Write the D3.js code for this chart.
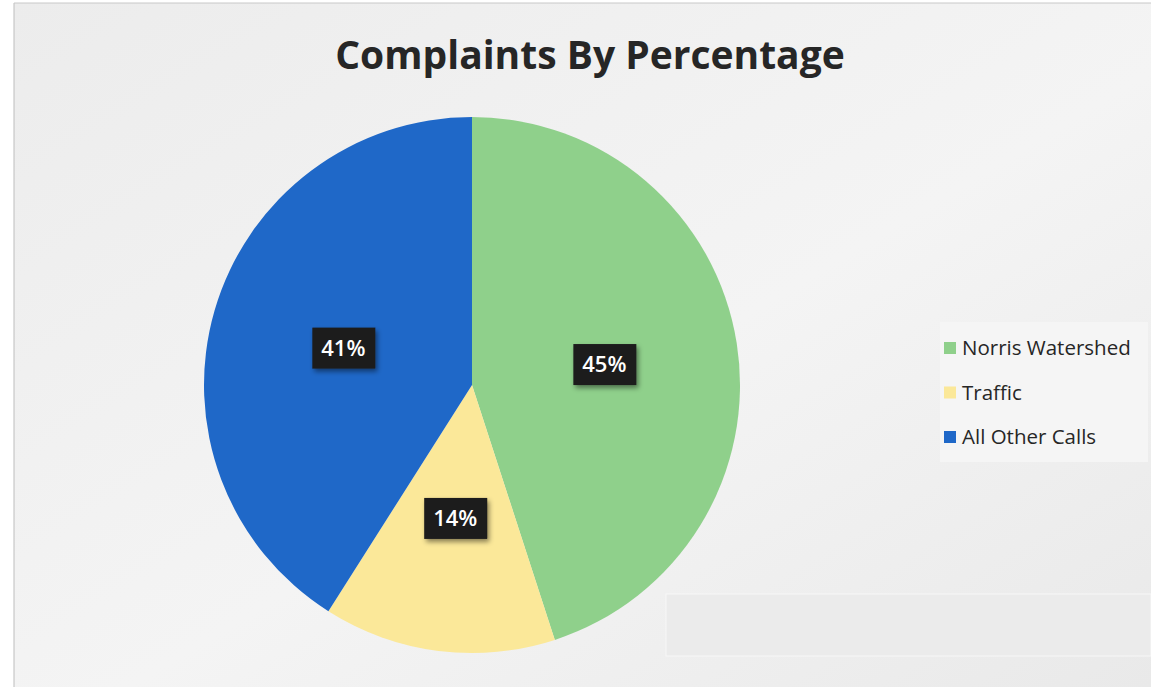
<!DOCTYPE html>
<html>
<head>
<meta charset="utf-8">
<script src="https://cdn.jsdelivr.net/npm/d3@7"></script>
<style>
  body { margin: 0; background: #fff; }
  svg { display: block; }
</style>
</head>
<body>
<svg id="chart" width="1151" height="687"></svg>
<script>
// chart data
const categories = ["Norris Watershed", "Traffic", "All Other Calls"];
const values = [45, 14, 41];
const colors = ["#8fd08b", "#fbe899", "#1f68c8"];
const title = "Complaints By Percentage";

const W = 1151, H = 687;
const svg = d3.select("#chart");

// scanned page background
const defs = svg.append("defs");
const grad = defs.append("linearGradient").attr("id", "bg")
    .attr("x1", 0).attr("y1", 0).attr("x2", 1).attr("y2", 1);
grad.append("stop").attr("offset", "0%").attr("stop-color", "#ececec");
grad.append("stop").attr("offset", "55%").attr("stop-color", "#f4f4f4");
grad.append("stop").attr("offset", "100%").attr("stop-color", "#e9e9e9");

const shadow = defs.append("filter").attr("id", "shadow")
    .attr("x", "-30%").attr("y", "-30%").attr("width", "160%").attr("height", "170%");
shadow.append("feDropShadow").attr("dx", 2).attr("dy", 3).attr("stdDeviation", 2.5)
    .attr("flood-color", "#000").attr("flood-opacity", 0.45);

svg.append("rect").attr("x", 14).attr("y", 3).attr("width", W - 14).attr("height", H - 3)
    .attr("fill", "url(#bg)");
svg.append("line").attr("x1", 14).attr("y1", 3).attr("x2", 14).attr("y2", H)
    .attr("stroke", "#bdbdbd").attr("stroke-width", 1);
svg.append("line").attr("x1", 14).attr("y1", 3).attr("x2", W).attr("y2", 3)
    .attr("stroke", "#c8c8c8").attr("stroke-width", 1);

// lighter panels behind the legend and lower right
svg.append("rect").attr("x", 940).attr("y", 322).attr("width", 208).attr("height", 140)
    .attr("fill", "#f5f5f5");
svg.append("rect").attr("x", 666).attr("y", 594).attr("width", 485).attr("height", 62)
    .attr("fill", "#ebebeb").attr("stroke", "#f7f7f7").attr("stroke-width", 1);

// title
svg.append("text")
    .attr("x", 590).attr("y", 69)
    .attr("text-anchor", "middle")
    .attr("font-family", "'Open Sans', 'Noto Sans', sans-serif")
    .attr("font-weight", "bold")
    .attr("font-size", 39)
    .attr("fill", "#262626")
    .text(title);

// pie
const cx = 472, cy = 385, radius = 268;
const pie = d3.pie().sort(null).value(d => d)(values);
const arc = d3.arc().innerRadius(0).outerRadius(radius);
const labelArc = d3.arc().innerRadius(radius * 0.5).outerRadius(radius * 0.5);

const g = svg.append("g").attr("transform", `translate(${cx},${cy})`);
g.selectAll("path.slice")
    .data(pie)
    .join("path")
    .attr("class", "slice")
    .attr("d", arc)
    .attr("fill", (d, i) => colors[i]);

// data labels
const lab = g.selectAll("g.lab")
    .data(pie)
    .join("g")
    .attr("class", "lab")
    .attr("transform", d => `translate(${labelArc.centroid(d)})`);
lab.append("rect")
    .attr("x", -31).attr("y", -20).attr("width", 63).attr("height", 41)
    .attr("fill", "#1c1c1c")
    .attr("filter", "url(#shadow)");
lab.append("text")
    .attr("text-anchor", "middle")
    .attr("dy", "0.36em")
    .attr("font-family", "'Open Sans', 'Noto Sans', sans-serif")
    .attr("font-weight", 600)
    .attr("font-size", 22)
    .attr("fill", "#fff")
    .text(d => d.data + "%");

// legend
const legend = svg.append("g").attr("transform", "translate(944,348)");
const item = legend.selectAll("g")
    .data(categories)
    .join("g")
    .attr("transform", (d, i) => `translate(0,${i * 44.5})`);
item.append("rect")
    .attr("x", 0).attr("y", -6).attr("width", 12).attr("height", 12)
    .attr("fill", (d, i) => colors[i]);
item.append("text")
    .attr("x", 18).attr("dy", "0.36em")
    .attr("font-family", "'Open Sans', 'Noto Sans', sans-serif")
    .attr("font-size", 20.5)
    .attr("fill", "#262626")
    .text(d => d);
</script>
</body>
</html>
